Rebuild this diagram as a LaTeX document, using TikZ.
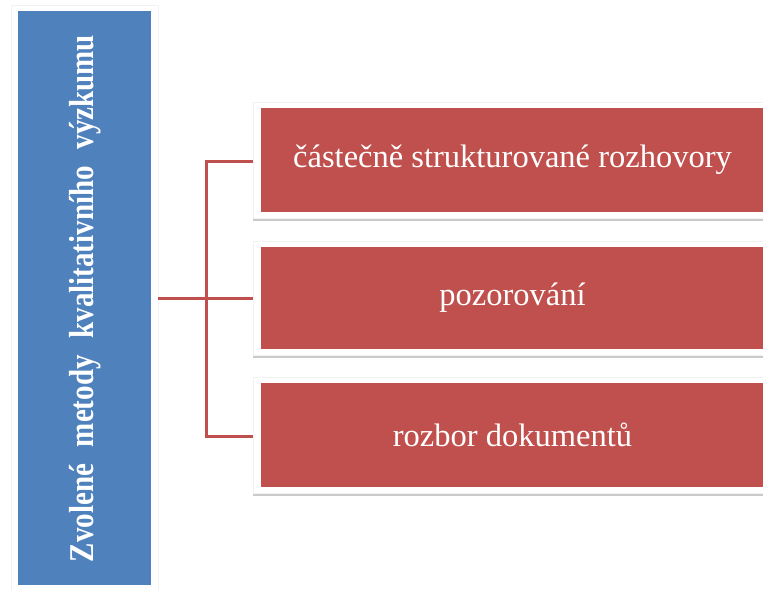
\documentclass[tikz,border=0pt]{standalone}
\usepackage{fontspec}
\setmainfont{Liberation Serif}
\usetikzlibrary{shadows}
\definecolor{myblue}{HTML}{4F81BD}
\definecolor{myred}{HTML}{C0504D}
\begin{document}
\begin{tikzpicture}[x=1pt,y=-1pt,
  frame/.style={rectangle, fill=white, draw=black!5, line width=0.5pt, inner sep=0pt,
    drop shadow={shadow xshift=0pt, shadow yshift=-3pt, opacity=0.35, fill=black!60}},
  bluebox/.style={rectangle, fill=myblue, inner sep=0pt, minimum width=133pt, minimum height=574pt},
  redbox/.style={rectangle, fill=myred, inner sep=0pt, minimum width=503pt, minimum height=104pt,
    text=white, font=\fontsize{32.5}{38}\selectfont},
  conn/.style={draw=myred, line width=3pt}]
\useasboundingbox (0,0) rectangle (763,589);
\begin{scope}
\clip (0,0) rectangle (763,589);
% blue frame and box
\node[frame, minimum width=147pt, minimum height=590pt] (bf) at (84.5,300) {};
\node[bluebox] (b) at (84.5,298) {};
\node[rotate=90, text=white, font=\fontsize{29}{34}\selectfont\bfseries] (bt) at (85,298.5)
  {\scalebox{1}[1.2]{\makebox[527pt][s]{Zvolené metody kvalitativního výzkumu}}};
% red frames
\node[frame, minimum width=522pt, minimum height=116pt] (f1) at (514,160) {};
\node[frame, minimum width=522pt, minimum height=114pt] (f2) at (514,298) {};
\node[frame, minimum width=522pt, minimum height=116pt] (f3) at (514,435) {};
\node[redbox] (r1) at (512.5,160) {částečně strukturované rozhovory};
\node[redbox, minimum height=102pt] (r2) at (512.5,298) {pozorování};
\node[redbox] (r3) at (512.5,435) {rozbor dokumentů};
% connectors
\coordinate (j) at (206,298);
\coordinate (jt) at (206,161);
\coordinate (jb) at (206,436);
\draw[conn] (bf.east |- j) -- (f2.west |- j);
\draw[conn] (jt -| f1.west) -- (jt) -- (jb) -- (jb -| f3.west);
\end{scope}
\end{tikzpicture}
\end{document}
